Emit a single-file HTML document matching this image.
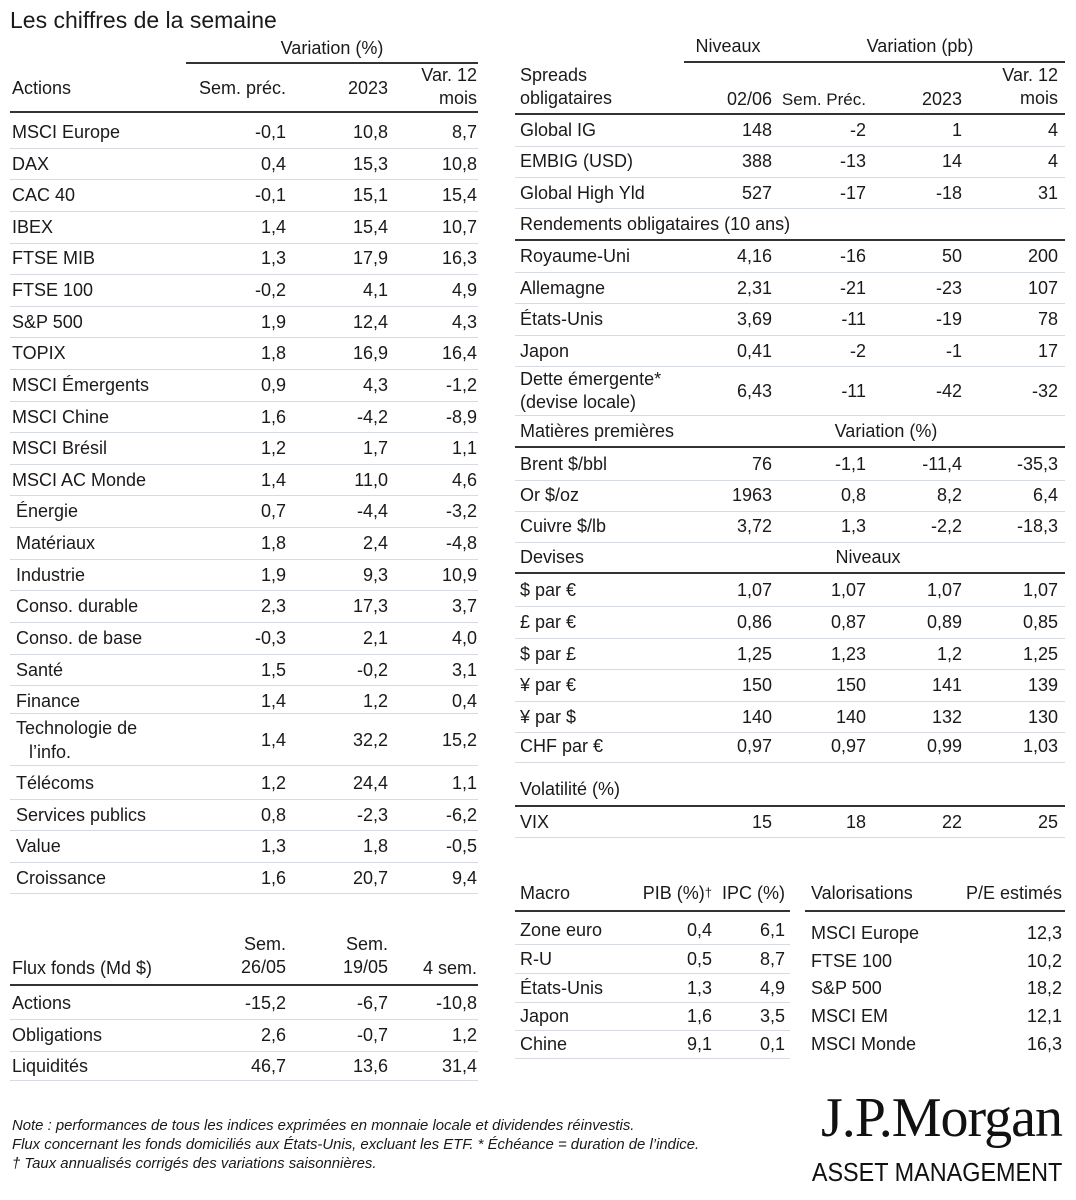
<!DOCTYPE html>
<html><head><meta charset="utf-8">
<style>
body{margin:0;width:1076px;height:1200px;background:#fff;position:relative;font-family:"Liberation Sans",sans-serif;color:#1a1a1a;overflow:hidden}
.t{position:absolute;white-space:nowrap;font-size:18px;line-height:23px}
.row{position:absolute;left:0;width:1076px;height:22px}
.row span{position:absolute;top:0;white-space:nowrap;font-size:18px;line-height:22px}
.a{left:12px}.i{left:16px}
.c1{right:790px}.c2{right:688px}.c3{right:599px}
.b{left:520px}
.k1{right:304px}.k2{right:210px}.k3{right:114px}.k4{right:18px}
.m1{right:364px}.m2{right:291px}.vl{left:811px}.vv{right:14px}
.h{position:absolute;height:1px;background:#d5dbe0}
.d{position:absolute;height:2px;background:#333}
.n{position:absolute;left:12px;font-size:14.9px;font-style:italic;white-space:nowrap;line-height:18px}
</style></head><body>
<div class="t" style="left:10px;top:6px;font-size:23px;line-height:28px">Les chiffres de la semaine</div>

<div class="t" style="left:186px;width:292px;text-align:center;top:37px">Variation (%)</div>
<div class="d" style="left:186px;width:292px;top:62px"></div>
<div class="t" style="left:12px;top:77px">Actions</div>
<div class="t" style="right:790px;top:77px">Sem. préc.</div>
<div class="t" style="right:688px;top:77px">2023</div>
<div class="t" style="right:599px;top:64px;text-align:right">Var. 12<br>mois</div>
<div class="d" style="left:10px;width:468px;top:111px"></div>

<div class="row" style="top:121px"><span class="a">MSCI Europe</span><span class="c1">-0,1</span><span class="c2">10,8</span><span class="c3">8,7</span></div>
<div class="row" style="top:153px"><span class="a">DAX</span><span class="c1">0,4</span><span class="c2">15,3</span><span class="c3">10,8</span></div>
<div class="row" style="top:184px"><span class="a">CAC 40</span><span class="c1">-0,1</span><span class="c2">15,1</span><span class="c3">15,4</span></div>
<div class="row" style="top:216px"><span class="a">IBEX</span><span class="c1">1,4</span><span class="c2">15,4</span><span class="c3">10,7</span></div>
<div class="row" style="top:247px"><span class="a">FTSE MIB</span><span class="c1">1,3</span><span class="c2">17,9</span><span class="c3">16,3</span></div>
<div class="row" style="top:279px"><span class="a">FTSE 100</span><span class="c1">-0,2</span><span class="c2">4,1</span><span class="c3">4,9</span></div>
<div class="row" style="top:311px"><span class="a">S&amp;P 500</span><span class="c1">1,9</span><span class="c2">12,4</span><span class="c3">4,3</span></div>
<div class="row" style="top:342px"><span class="a">TOPIX</span><span class="c1">1,8</span><span class="c2">16,9</span><span class="c3">16,4</span></div>
<div class="row" style="top:374px"><span class="a">MSCI Émergents</span><span class="c1">0,9</span><span class="c2">4,3</span><span class="c3">-1,2</span></div>
<div class="row" style="top:406px"><span class="a">MSCI Chine</span><span class="c1">1,6</span><span class="c2">-4,2</span><span class="c3">-8,9</span></div>
<div class="row" style="top:437px"><span class="a">MSCI Brésil</span><span class="c1">1,2</span><span class="c2">1,7</span><span class="c3">1,1</span></div>
<div class="row" style="top:469px"><span class="a">MSCI AC Monde</span><span class="c1">1,4</span><span class="c2">11,0</span><span class="c3">4,6</span></div>
<div class="row" style="top:500px"><span class="i">Énergie</span><span class="c1">0,7</span><span class="c2">-4,4</span><span class="c3">-3,2</span></div>
<div class="row" style="top:532px"><span class="i">Matériaux</span><span class="c1">1,8</span><span class="c2">2,4</span><span class="c3">-4,8</span></div>
<div class="row" style="top:564px"><span class="i">Industrie</span><span class="c1">1,9</span><span class="c2">9,3</span><span class="c3">10,9</span></div>
<div class="row" style="top:595px"><span class="i">Conso. durable</span><span class="c1">2,3</span><span class="c2">17,3</span><span class="c3">3,7</span></div>
<div class="row" style="top:627px"><span class="i">Conso. de base</span><span class="c1">-0,3</span><span class="c2">2,1</span><span class="c3">4,0</span></div>
<div class="row" style="top:659px"><span class="i">Santé</span><span class="c1">1,5</span><span class="c2">-0,2</span><span class="c3">3,1</span></div>
<div class="row" style="top:690px"><span class="i">Finance</span><span class="c1">1,4</span><span class="c2">1,2</span><span class="c3">0,4</span></div>
<div class="t" style="left:16px;top:717px">Technologie de</div>
<div class="t" style="left:29px;top:741px">l’info.</div>
<div class="row" style="top:729px"><span class="c1">1,4</span><span class="c2">32,2</span><span class="c3">15,2</span></div>
<div class="row" style="top:772px"><span class="i">Télécoms</span><span class="c1">1,2</span><span class="c2">24,4</span><span class="c3">1,1</span></div>
<div class="row" style="top:804px"><span class="i">Services publics</span><span class="c1">0,8</span><span class="c2">-2,3</span><span class="c3">-6,2</span></div>
<div class="row" style="top:835px"><span class="i">Value</span><span class="c1">1,3</span><span class="c2">1,8</span><span class="c3">-0,5</span></div>
<div class="row" style="top:867px"><span class="i">Croissance</span><span class="c1">1,6</span><span class="c2">20,7</span><span class="c3">9,4</span></div>

<div class="h" style="left:10px;width:468px;top:148px"></div>
<div class="h" style="left:10px;width:468px;top:179px"></div>
<div class="h" style="left:10px;width:468px;top:211px"></div>
<div class="h" style="left:10px;width:468px;top:243px"></div>
<div class="h" style="left:10px;width:468px;top:274px"></div>
<div class="h" style="left:10px;width:468px;top:306px"></div>
<div class="h" style="left:10px;width:468px;top:337px"></div>
<div class="h" style="left:10px;width:468px;top:369px"></div>
<div class="h" style="left:10px;width:468px;top:401px"></div>
<div class="h" style="left:10px;width:468px;top:432px"></div>
<div class="h" style="left:10px;width:468px;top:464px"></div>
<div class="h" style="left:10px;width:468px;top:495px"></div>
<div class="h" style="left:10px;width:468px;top:527px"></div>
<div class="h" style="left:10px;width:468px;top:559px"></div>
<div class="h" style="left:10px;width:468px;top:590px"></div>
<div class="h" style="left:10px;width:468px;top:622px"></div>
<div class="h" style="left:10px;width:468px;top:654px"></div>
<div class="h" style="left:10px;width:468px;top:685px"></div>
<div class="h" style="left:10px;width:468px;top:713px"></div>
<div class="h" style="left:10px;width:468px;top:765px"></div>
<div class="h" style="left:10px;width:468px;top:799px"></div>
<div class="h" style="left:10px;width:468px;top:830px"></div>
<div class="h" style="left:10px;width:468px;top:862px"></div>
<div class="h" style="left:10px;width:468px;top:893px"></div>

<div class="t" style="right:790px;top:933px;text-align:right">Sem.<br>26/05</div>
<div class="t" style="right:688px;top:933px;text-align:right">Sem.<br>19/05</div>
<div class="t" style="left:12px;top:957px">Flux fonds (Md $)</div>
<div class="t" style="right:599px;top:957px">4 sem.</div>
<div class="d" style="left:10px;width:468px;top:984px"></div>
<div class="row" style="top:992px"><span class="a">Actions</span><span class="c1">-15,2</span><span class="c2">-6,7</span><span class="c3">-10,8</span></div>
<div class="row" style="top:1024px"><span class="a">Obligations</span><span class="c1">2,6</span><span class="c2">-0,7</span><span class="c3">1,2</span></div>
<div class="row" style="top:1055px"><span class="a">Liquidités</span><span class="c1">46,7</span><span class="c2">13,6</span><span class="c3">31,4</span></div>
<div class="h" style="left:10px;width:468px;top:1019px"></div>
<div class="h" style="left:10px;width:468px;top:1051px"></div>
<div class="h" style="left:10px;width:468px;top:1080px"></div>

<div class="t" style="left:684px;width:88px;text-align:center;top:35px">Niveaux</div>
<div class="t" style="left:780px;width:280px;text-align:center;top:35px">Variation (pb)</div>
<div class="d" style="left:684px;width:381px;top:61px"></div>
<div class="t" style="left:520px;top:64px">Spreads<br>obligataires</div>
<div class="t" style="right:304px;top:88px">02/06</div>
<div class="t" style="right:210px;top:88px;font-size:17px">Sem. Préc.</div>
<div class="t" style="right:114px;top:88px">2023</div>
<div class="t" style="right:18px;top:64px;text-align:right">Var. 12<br>mois</div>
<div class="d" style="left:515px;width:550px;top:113px"></div>

<div class="row" style="top:119px"><span class="b">Global IG</span><span class="k1">148</span><span class="k2">-2</span><span class="k3">1</span><span class="k4">4</span></div>
<div class="row" style="top:150px"><span class="b">EMBIG (USD)</span><span class="k1">388</span><span class="k2">-13</span><span class="k3">14</span><span class="k4">4</span></div>
<div class="row" style="top:182px"><span class="b">Global High Yld</span><span class="k1">527</span><span class="k2">-17</span><span class="k3">-18</span><span class="k4">31</span></div>
<div class="row" style="top:213px"><span class="b">Rendements obligataires (10 ans)</span></div>
<div class="row" style="top:245px"><span class="b">Royaume-Uni</span><span class="k1">4,16</span><span class="k2">-16</span><span class="k3">50</span><span class="k4">200</span></div>
<div class="row" style="top:277px"><span class="b">Allemagne</span><span class="k1">2,31</span><span class="k2">-21</span><span class="k3">-23</span><span class="k4">107</span></div>
<div class="row" style="top:308px"><span class="b">États-Unis</span><span class="k1">3,69</span><span class="k2">-11</span><span class="k3">-19</span><span class="k4">78</span></div>
<div class="row" style="top:340px"><span class="b">Japon</span><span class="k1">0,41</span><span class="k2">-2</span><span class="k3">-1</span><span class="k4">17</span></div>
<div class="t" style="left:520px;top:368px">Dette émergente*<br>(devise locale)</div>
<div class="row" style="top:380px"><span class="k1">6,43</span><span class="k2">-11</span><span class="k3">-42</span><span class="k4">-32</span></div>
<div class="row" style="top:420px"><span class="b">Matières premières</span><span style="left:780px;width:212px;text-align:center">Variation (%)</span></div>
<div class="row" style="top:453px"><span class="b">Brent $/bbl</span><span class="k1">76</span><span class="k2">-1,1</span><span class="k3">-11,4</span><span class="k4">-35,3</span></div>
<div class="row" style="top:484px"><span class="b">Or $/oz</span><span class="k1">1963</span><span class="k2">0,8</span><span class="k3">8,2</span><span class="k4">6,4</span></div>
<div class="row" style="top:515px"><span class="b">Cuivre $/lb</span><span class="k1">3,72</span><span class="k2">1,3</span><span class="k3">-2,2</span><span class="k4">-18,3</span></div>
<div class="row" style="top:546px"><span class="b">Devises</span><span style="left:780px;width:176px;text-align:center">Niveaux</span></div>
<div class="row" style="top:579px"><span class="b">$ par €</span><span class="k1">1,07</span><span class="k2">1,07</span><span class="k3">1,07</span><span class="k4">1,07</span></div>
<div class="row" style="top:611px"><span class="b">£ par €</span><span class="k1">0,86</span><span class="k2">0,87</span><span class="k3">0,89</span><span class="k4">0,85</span></div>
<div class="row" style="top:643px"><span class="b">$ par £</span><span class="k1">1,25</span><span class="k2">1,23</span><span class="k3">1,2</span><span class="k4">1,25</span></div>
<div class="row" style="top:674px"><span class="b">¥ par €</span><span class="k1">150</span><span class="k2">150</span><span class="k3">141</span><span class="k4">139</span></div>
<div class="row" style="top:706px"><span class="b">¥ par $</span><span class="k1">140</span><span class="k2">140</span><span class="k3">132</span><span class="k4">130</span></div>
<div class="row" style="top:735px"><span class="b">CHF par €</span><span class="k1">0,97</span><span class="k2">0,97</span><span class="k3">0,99</span><span class="k4">1,03</span></div>
<div class="row" style="top:778px"><span class="b">Volatilité (%)</span></div>
<div class="row" style="top:811px"><span class="b">VIX</span><span class="k1">15</span><span class="k2">18</span><span class="k3">22</span><span class="k4">25</span></div>

<div class="h" style="left:515px;width:550px;top:146px"></div>
<div class="h" style="left:515px;width:550px;top:177px"></div>
<div class="h" style="left:515px;width:550px;top:208px"></div>
<div class="d" style="left:515px;width:550px;top:239px"></div>
<div class="h" style="left:515px;width:550px;top:272px"></div>
<div class="h" style="left:515px;width:550px;top:303px"></div>
<div class="h" style="left:515px;width:550px;top:335px"></div>
<div class="h" style="left:515px;width:550px;top:366px"></div>
<div class="h" style="left:515px;width:550px;top:415px"></div>
<div class="d" style="left:515px;width:550px;top:446px"></div>
<div class="h" style="left:515px;width:550px;top:480px"></div>
<div class="h" style="left:515px;width:550px;top:511px"></div>
<div class="h" style="left:515px;width:550px;top:542px"></div>
<div class="d" style="left:515px;width:550px;top:572px"></div>
<div class="h" style="left:515px;width:550px;top:606px"></div>
<div class="h" style="left:515px;width:550px;top:638px"></div>
<div class="h" style="left:515px;width:550px;top:669px"></div>
<div class="h" style="left:515px;width:550px;top:701px"></div>
<div class="h" style="left:515px;width:550px;top:732px"></div>
<div class="h" style="left:515px;width:550px;top:762px"></div>
<div class="d" style="left:515px;width:550px;top:805px"></div>
<div class="h" style="left:515px;width:550px;top:837px"></div>

<div class="row" style="top:882px"><span class="b">Macro</span><span style="right:364px">PIB (%)<span style="position:static;font-size:13px;vertical-align:top">†</span></span><span class="m2">IPC (%)</span><span class="vl">Valorisations</span><span class="vv">P/E estimés</span></div>
<div class="d" style="left:515px;width:275px;top:910px"></div>
<div class="d" style="left:805px;width:260px;top:910px"></div>
<div class="row" style="top:919px"><span class="b">Zone euro</span><span class="m1">0,4</span><span class="m2">6,1</span></div>
<div class="row" style="top:948px"><span class="b">R-U</span><span class="m1">0,5</span><span class="m2">8,7</span></div>
<div class="row" style="top:977px"><span class="b">États-Unis</span><span class="m1">1,3</span><span class="m2">4,9</span></div>
<div class="row" style="top:1005px"><span class="b">Japon</span><span class="m1">1,6</span><span class="m2">3,5</span></div>
<div class="row" style="top:1033px"><span class="b">Chine</span><span class="m1">9,1</span><span class="m2">0,1</span></div>
<div class="row" style="top:922px"><span class="vl">MSCI Europe</span><span class="vv">12,3</span></div>
<div class="row" style="top:950px"><span class="vl">FTSE 100</span><span class="vv">10,2</span></div>
<div class="row" style="top:977px"><span class="vl">S&amp;P 500</span><span class="vv">18,2</span></div>
<div class="row" style="top:1005px"><span class="vl">MSCI EM</span><span class="vv">12,1</span></div>
<div class="row" style="top:1033px"><span class="vl">MSCI Monde</span><span class="vv">16,3</span></div>
<div class="h" style="left:515px;width:275px;top:944px"></div>
<div class="h" style="left:515px;width:275px;top:973px"></div>
<div class="h" style="left:515px;width:275px;top:1002px"></div>
<div class="h" style="left:515px;width:275px;top:1030px"></div>
<div class="h" style="left:515px;width:275px;top:1058px"></div>

<div class="n" style="top:1117px">Note : performances de tous les indices exprimées en monnaie locale et dividendes réinvestis.</div>
<div class="n" style="top:1136px">Flux concernant les fonds domiciliés aux États-Unis, excluant les ETF. * Échéance = duration de l’indice.</div>
<div class="n" style="top:1155px">† Taux annualisés corrigés des variations saisonnières.</div>

<div style="position:absolute;right:14px;top:1089px;font-family:'Liberation Serif',serif;font-size:56px;line-height:58px;letter-spacing:-1px;white-space:nowrap;color:#111">J.P.Morgan</div>
<div style="position:absolute;right:14px;top:1157px;font-size:26px;line-height:30px;transform:scaleX(0.9);transform-origin:right;white-space:nowrap;color:#111">ASSET MANAGEMENT</div>
</body></html>
